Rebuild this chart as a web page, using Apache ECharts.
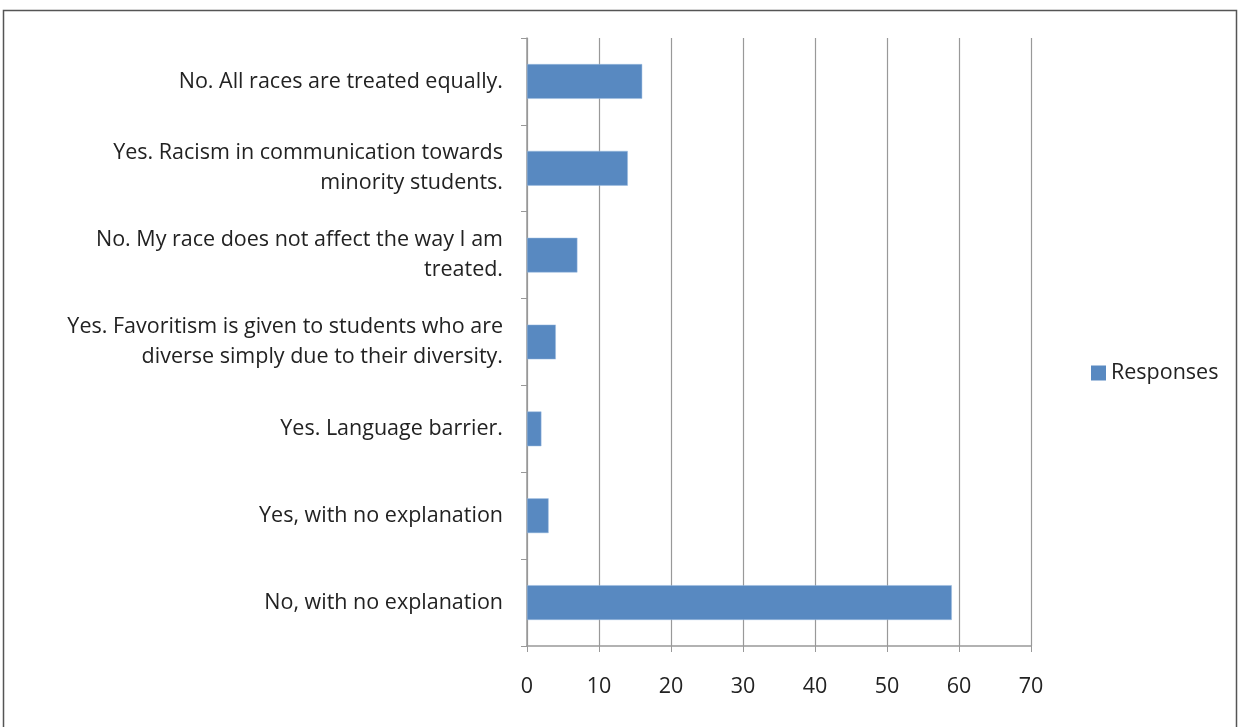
<!DOCTYPE html>
<html><head><meta charset="utf-8">
<script src="https://cdn.jsdelivr.net/npm/echarts@6/dist/echarts.min.js"></script>
<style>html,body{margin:0;padding:0;background:#fff}#c{width:1240px;height:727px}</style>
</head><body><div id="c"></div>
<script>
const categories = [
  "No, with no explanation",
  "Yes, with no explanation",
  "Yes. Language barrier.",
  "Yes. Favoritism is given to students who are\ndiverse simply due to their diversity.",
  "No. My race does not affect the way I am\ntreated.",
  "Yes. Racism in communication towards\nminority students.",
  "No. All races are treated equally."
];
const responses = [59, 3, 2, 4, 7, 14, 16];
const seriesName = "Responses";

const chart = echarts.init(document.getElementById('c'), null, {renderer:'canvas'});
const font = "'Open Sans', 'DejaVu Sans', sans-serif";
chart.setOption({
  animation:false,
  backgroundColor:'#fff',
  graphic:[{type:'rect', shape:{x:3.5,y:10.5,width:1233,height:730}, style:{fill:'none', stroke:'#555', lineWidth:1.5}, silent:true}],
  grid:{left:527, right:209, top:38, bottom:81, containLabel:false},
  legend:{
    data:[seriesName], left:1086, top:357, orient:'vertical',
    itemWidth:15, itemHeight:15, icon:'rect', itemGap:8,
    itemStyle:{borderWidth:0},
    textStyle:{fontFamily:font, fontSize:21.5, color:'#222'}
  },
  xAxis:{
    type:'value', min:0, max:70, interval:10,
    axisLine:{show:true, lineStyle:{color:'#999', width:1.5}},
    axisTick:{show:true, length:6, lineStyle:{color:'#999'}},
    splitLine:{show:true, lineStyle:{color:'#999', width:1.2}},
    axisLabel:{fontFamily:font, fontSize:21.5, color:'#222', margin:30}
  },
  yAxis:{
    type:'category', data:categories,
    axisLine:{show:true, lineStyle:{color:'#999', width:1.5}},
    axisTick:{show:true, length:6, lineStyle:{color:'#999'}},
    axisLabel:{fontFamily:font, fontSize:21.5, color:'#222', margin:24, lineHeight:30, align:'right'}
  },
  series:[{
    name:seriesName, type:'bar', data:responses, barWidth:'40%',
    itemStyle:{color:'#5889c1', borderColor:'#9dbde0', borderWidth:0.5}
  }]
});
</script></body></html>
